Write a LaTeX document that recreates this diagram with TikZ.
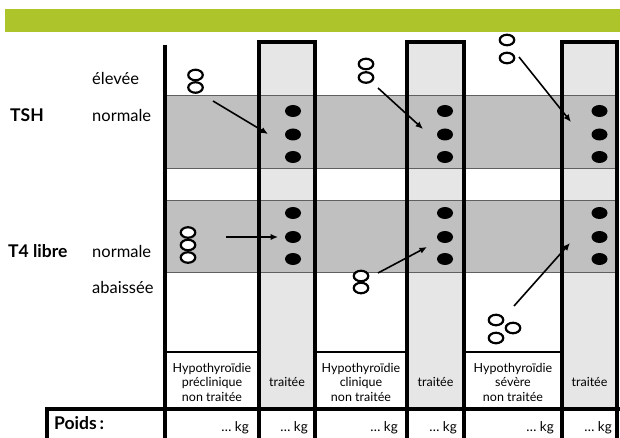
\documentclass[tikz,border=0pt]{standalone}
\usepackage{fontspec}
\setmainfont{Lato}
\usepackage{xcolor}
\usetikzlibrary{arrows.meta,shapes.geometric}

\definecolor{bargreen}{HTML}{ADC52A}
\definecolor{bandgray}{HTML}{C0C0C0}
\definecolor{colgray}{HTML}{E6E6E6}

\begin{document}
\begin{tikzpicture}[x=1pt, y=-1pt,
        lbl/.style={anchor=base west, inner sep=0, font=\fontsize{16.5}{19}\selectfont},
        hdr/.style={lbl, font=\fontsize{17.5}{20}\selectfont\bfseries},
        cell/.style={align=center, inner sep=0, font=\fontsize{12.5}{14.5}\selectfont},
        kg/.style={anchor=base east, inner sep=0, font=\fontsize{13.5}{15}\selectfont},
        hollow/.style={ellipse, draw, line width=2.2pt, fill=white,
                       minimum width=14.5pt, minimum height=10.5pt, inner sep=0},
        full/.style={ellipse, fill=black, minimum width=16pt, minimum height=12pt, inner sep=0},
        arrow/.style={-{Latex[length=7.5pt,width=6.5pt]}, line width=1.6pt},
        frame/.style={line width=3.2pt},
        band/.style={fill=bandgray, draw=gray!75!black, line width=0.8pt}
    ]
        \useasboundingbox (0,0) rectangle (620,438);

        % header bar
        \fill[bargreen] (5,9) rectangle (620,32);

        % treated columns and normal ranges
        \fill[colgray] (259,42) rectangle (315,409);
        \fill[colgray] (407,42) rectangle (464,409);
        \fill[colgray] (562,42) rectangle (617,409);
        \filldraw[band] (165,95) rectangle (617,168);
        \filldraw[band] (165,200) rectangle (617,272);

        % grid
        \draw[frame] (165,45) -- (165,438);
        \draw[frame] (259,438) -- (259,42) -- (315,42) -- (315,438);
        \draw[frame] (407,438) -- (407,42) -- (464,42) -- (464,438);
        \draw[frame] (562,438) -- (562,42) -- (617,42) -- (617,438);
        \draw[frame] (47,438) -- (47,409) -- (620,409);
        \draw[line width=2pt] (165,352) -- (259,352);
        \draw[line width=2pt] (315,352) -- (407,352);
        \draw[line width=2pt] (464,352) -- (562,352);

        % row labels
        \node[lbl] (eleve) at (92,85) {élevée};
        \node[hdr] (tsh) at (10,122) {TSH};
        \node[lbl] (normtsh) at (92,122) {normale};
        \node[hdr] (t4) at (8,257) {T4 libre};
        \node[lbl] (normt4) at (92,257) {normale};
        \node[lbl] (abaisse) at (92,293) {abaissée};

        % column labels
        \node[cell] (c1) at (212,382) {Hypothyroïdie\\préclinique\\non traitée};
        \node[cell] (t1) at (287,382) {traitée};
        \node[cell] (c2) at (361,382) {Hypothyroïdie\\clinique\\non traitée};
        \node[cell] (t2) at (435.5,382) {traitée};
        \node[cell] (c3) at (513,382) {Hypothyroïdie\\sévère\\non traitée};
        \node[cell] (t3) at (589.5,382) {traitée};

        % weight row
        \node[hdr] (poids) at (54,429) {Poids\,:};
        \node[kg] (k1) at (249,431) {\dots{} kg};
        \node[kg] (k2) at (308,431) {\dots{} kg};
        \node[kg] (k3) at (398,431) {\dots{} kg};
        \node[kg] (k4) at (457,431) {\dots{} kg};
        \node[kg] (k5) at (554,431) {\dots{} kg};
        \node[kg] (k6) at (612,431) {\dots{} kg};

        % untreated values
        \node[hollow] (a1) at (195.5,75) {};
        \node[hollow] (a2) at (195.5,87.5) {};
        \node[hollow] (b1) at (188,232.5) {};
        \node[hollow] (b2) at (188,245) {};
        \node[hollow] (b3) at (188,257.5) {};
        \node[hollow] (c1a) at (366,64) {};
        \node[hollow] (c1b) at (366,77.5) {};
        \node[hollow] (d1) at (361,276) {};
        \node[hollow] (d2) at (361,288) {};
        \node[hollow] (e1) at (507,40) {};
        \node[hollow] (e2) at (507,58) {};
        \node[hollow] (f1) at (496,320) {};
        \node[hollow] (f2) at (513,328) {};
        \node[hollow] (f3) at (496,338) {};

        % treated values
        \foreach \x/\n in {293/p, 445/q, 599.5/r} {
            \node[full] (\n1) at (\x,111) {};
            \node[full] (\n2) at (\x,134.5) {};
            \node[full] (\n3) at (\x,157) {};
            \node[full] (\n4) at (\x,213) {};
            \node[full] (\n5) at (\x,237) {};
            \node[full] (\n6) at (\x,259) {};
        }

        % arrows
        \coordinate (s1) at (213,101);  \coordinate (e1) at (268,134);
        \coordinate (s2) at (226,237);  \coordinate (e2) at (278,237);
        \coordinate (s3) at (378,88);   \coordinate (e3) at (423,129);
        \coordinate (s4) at (378,273);  \coordinate (e4) at (427,247);
        \coordinate (s5) at (519,57);   \coordinate (e5) at (571,122);
        \coordinate (s6) at (514,306);  \coordinate (e6) at (570,243);
        \draw[arrow] (s1) -- (e1);
        \draw[arrow] (s2) -- (e2);
        \draw[arrow] (s3) -- (e3);
        \draw[arrow] (s4) -- (e4);
        \draw[arrow] (s5) -- (e5);
        \draw[arrow] (s6) -- (e6);
    \end{tikzpicture}
\end{document}
